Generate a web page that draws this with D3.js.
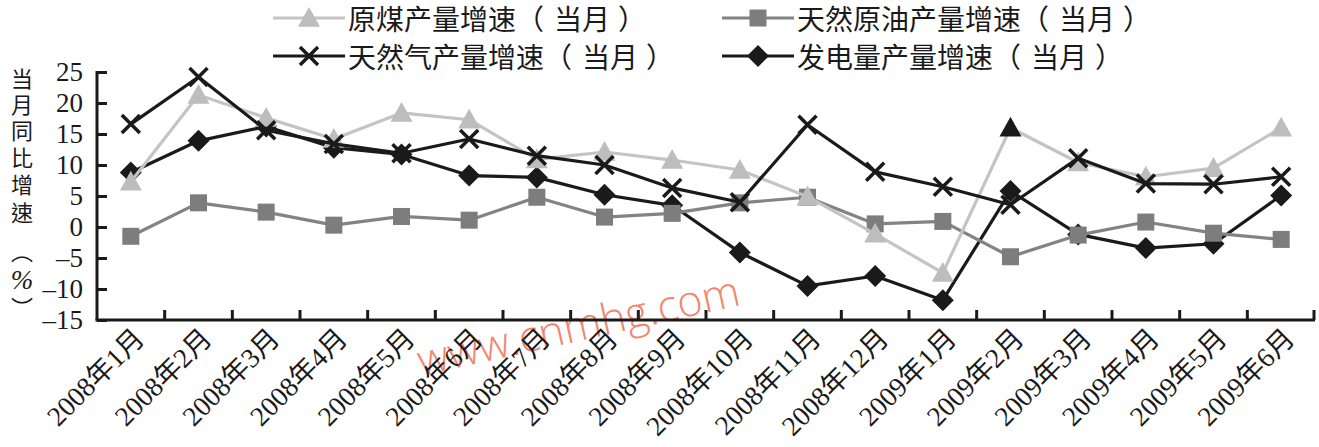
<!DOCTYPE html>
<html><head><meta charset="utf-8">
<script src="https://cdn.jsdelivr.net/npm/d3@7/dist/d3.min.js"></script>
<style>
html,body{margin:0;padding:0;background:#fff;}
svg{display:block;}
</style></head>
<body>
<svg id="chart" width="1319" height="447"></svg>
<script>
const categories = ["2008年1月","2008年2月","2008年3月","2008年4月","2008年5月","2008年6月","2008年7月","2008年8月","2008年9月","2008年10月","2008年11月","2008年12月","2009年1月","2009年2月","2009年3月","2009年4月","2009年5月","2009年6月"];
const coal  = [7.3, 21.3, 17.6, 14.2, 18.4, 17.3, 10.9, 12.1, 10.8, 9.2, 4.9, -1.1, -7.4, 16.0, 10.4, 8.1, 9.5, 16.0];
const oil   = [-1.5, 3.9, 2.4, 0.3, 1.7, 1.1, 4.8, 1.6, 2.2, 3.9, 4.8, 0.5, 0.9, -4.8, -1.3, 0.8, -1.0, -2.0];
const gas   = [16.6, 24.2, 15.6, 13.4, 11.9, 14.2, 11.5, 10.0, 6.3, 4.0, 16.5, 8.9, 6.5, 3.6, 11.1, 7.0, 6.9, 8.1];
const power = [8.8, 13.9, 16.2, 12.8, 11.7, 8.3, 8.0, 5.2, 3.5, -4.1, -9.5, -7.9, -11.8, 5.8, -1.2, -3.4, -2.7, 5.1];
const yTicks = [-15, -10, -5, 0, 5, 10, 15, 20, 25];
const yTickLabels = ["–15", "–10", "–5", "0", "5", "10", "15", "20", "25"];
const seriesNames = ["原煤产量增速（当月）", "天然原油产量增速（当月）", "天然气产量增速（当月）", "发电量产量增速（当月）"];
const yTitleChars = ["当","月","同","比","增","速","︵","%","︶"];
const watermark = "www.cnmhg.com";

(function () {
const svg = d3.select("#chart");
const mLeft = 97, mRight = 1315, mTop = 72, mBottom = 320;

const x = d3.scaleBand().domain(categories).range([mLeft, mRight]).padding(0);
const y = d3.scaleLinear().domain([-15, 25]).range([mBottom, mTop]);

const cx = d => x(d) + x.bandwidth() / 2;

// watermark
svg.append("text")
  .attr("x", 0).attr("y", 0)
  .attr("transform", "translate(421,376) rotate(-12.5)")
  .attr("font-family", "'Open Sans', sans-serif")
  .attr("font-weight", 300)
  .attr("font-size", 43)
  .attr("fill", "#f2866f")
  .text(watermark);

// y axis
const yAxis = d3.axisLeft(y).tickValues(yTicks).tickSize(-10).tickPadding(14)
  .tickFormat((d, i) => yTickLabels[i]);
const gy = svg.append("g").attr("transform", `translate(${mLeft},0)`).call(yAxis);
gy.select(".domain").attr("stroke", "#1a1a1a").attr("stroke-width", 3).attr("d", `M0,${mTop - 1}V${mBottom}`);
gy.selectAll(".tick line").attr("stroke", "#1a1a1a").attr("stroke-width", 3);
gy.selectAll(".tick text").attr("font-family", "'Liberation Serif', 'Times New Roman', serif")
  .attr("font-size", 27).attr("fill", "#1a1a1a");

// x axis labels
const xAxis = d3.axisBottom(x).tickSize(0).tickPadding(0);
const gx = svg.append("g").attr("transform", `translate(0,${mBottom})`).call(xAxis);
gx.select(".domain").attr("stroke", "#1a1a1a").attr("stroke-width", 3).attr("d", `M${mLeft - 1.5},0H${mRight}`);
gx.selectAll(".tick text")
  .attr("font-family", "'Liberation Serif', 'Noto Sans CJK SC', serif")
  .attr("font-size", 27.5).attr("fill", "#1a1a1a")
  .attr("text-anchor", "end")
  .attr("dy", 0)
  .attr("transform", "translate(15,20) rotate(-45)");

// boundary ticks pointing up
const bounds = categories.slice(1).map(c => x(c)).concat([mRight - 1]);
svg.append("g").selectAll("line").data(bounds).join("line")
  .attr("x1", d => d).attr("x2", d => d)
  .attr("y1", mBottom).attr("y2", mBottom - 10)
  .attr("stroke", "#1a1a1a").attr("stroke-width", 3);

// y title
svg.append("g").selectAll("text").data(yTitleChars).join("text")
  .attr("x", 22)
  .attr("y", (d, i) => [77, 103, 129, 156, 183, 211, 250, 280, 306][i])
  .attr("text-anchor", "middle")
  .attr("dominant-baseline", "central")
  .attr("font-family", (d) => d === "%" ? "'Liberation Serif', serif" : "'Noto Sans CJK TC', sans-serif")
  .attr("font-size", d => d === "%" ? 27 : 22)
  .attr("font-style", d => d === "%" ? "italic" : "normal")
  .attr("fill", "#1a1a1a")
  .text(d => d);

// markers
function drawMarker(g, type, px, py, color) {
  if (type === "tri") {
    const s = 11;
    g.append("path").attr("d", `M${px},${py - s}L${px + s * 1.0},${py + s * 0.8}L${px - s * 1.0},${py + s * 0.8}Z`).attr("fill", color);
  } else if (type === "sq") {
    const s = 8.5;
    g.append("rect").attr("x", px - s).attr("y", py - s).attr("width", 2 * s).attr("height", 2 * s).attr("fill", color);
  } else if (type === "x") {
    const s = 9;
    g.append("path").attr("d", `M${px - s},${py - s}L${px + s},${py + s}M${px - s},${py + s}L${px + s},${py - s}`)
      .attr("stroke", color).attr("stroke-width", 3.5).attr("fill", "none");
  } else if (type === "dia") {
    const s = 11;
    g.append("path").attr("d", `M${px},${py - s}L${px + s},${py}L${px},${py + s}L${px - s},${py}Z`).attr("fill", color);
  }
}

const series = [
  {name: seriesNames[3], values: power, color: "#1a1a1a", mcolor: "#1a1a1a", marker: "dia"},
  {name: seriesNames[1], values: oil, color: "#838383", mcolor: "#7d7d7d", marker: "sq"},
  {name: seriesNames[0], values: coal, color: "#c4c4c4", mcolor: "#bdbdbd", marker: "tri"},
  {name: seriesNames[2], values: gas, color: "#1a1a1a", mcolor: "#1a1a1a", marker: "x"}
];

const line = d3.line().x((d, i) => cx(categories[i])).y(d => y(d));

series.forEach(s => {
  const g = svg.append("g");
  g.append("path").datum(s.values).attr("d", line)
    .attr("fill", "none").attr("stroke", s.color).attr("stroke-width", 3.2).attr("stroke-linejoin", "round");
  s.values.forEach((v, i) => {
    // the 2009年2月 coal marker is printed black in the source
    const col = (s.marker === "tri" && categories[i] === "2009年2月") ? "#1a1a1a" : s.mcolor;
    drawMarker(g, s.marker, cx(categories[i]), y(v), col);
  });
});

// legend
const legendItems = [
  {s: series[2], lx: 273, ly: 18},
  {s: series[1], lx: 722, ly: 18},
  {s: series[3], lx: 273, ly: 56},
  {s: series[0], lx: 722, ly: 56}
];
legendItems.forEach(it => {
  const g = svg.append("g");
  g.append("line").attr("x1", it.lx).attr("x2", it.lx + 72).attr("y1", it.ly).attr("y2", it.ly)
    .attr("stroke", it.s.color).attr("stroke-width", 3.2);
  drawMarker(g, it.s.marker, it.lx + 36, it.ly, it.s.mcolor);
  const t = g.append("text").attr("x", it.lx + 75).attr("y", it.ly)
    .attr("dominant-baseline", "central")
    .attr("font-family", "'Noto Sans CJK SC', sans-serif")
    .attr("font-size", 28).attr("fill", "#1a1a1a");
  // split so the full-width brackets keep their printed spacing
  const parts = it.s.name.split(/([（）])/).filter(p => p.length);
  parts.forEach((p, k) => {
    const dx = p === "）" ? 8 : (parts[k - 1] === "（" ? 10 : 0);
    t.append("tspan").attr("dx", dx).text(p);
  });
});
})();
</script>
</body></html>
